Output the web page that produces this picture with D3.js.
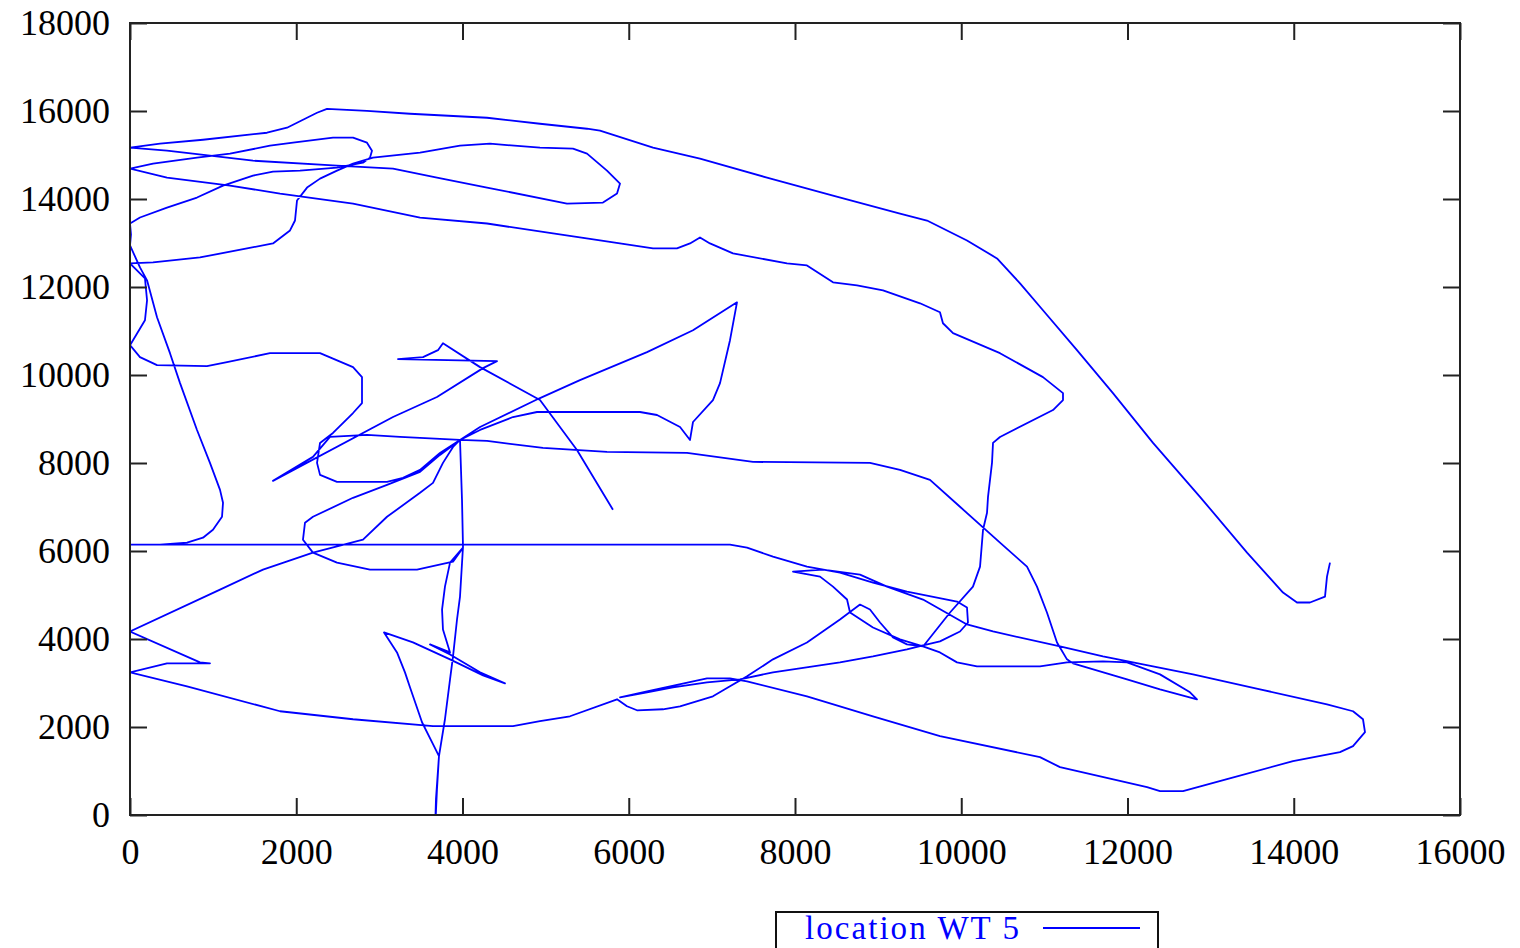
<!DOCTYPE html>
<html>
<head>
<meta charset="utf-8">
<script src="https://cdn.jsdelivr.net/npm/d3@7"></script>
<style>
  html, body { margin: 0; padding: 0; background: #ffffff; }
  svg { display: block; }
</style>
</head>
<body>
<svg id="chart" width="1520" height="948"></svg>
<script>
// Axis ticks
const xTickValues = [0, 2000, 4000, 6000, 8000, 10000, 12000, 14000, 16000];
const yTickValues = [0, 2000, 4000, 6000, 8000, 10000, 12000, 14000, 16000, 18000];
const seriesName = "location WT 5";

// Track of WT 5, split into consecutive legs of [easting, northing] fixes.
const legStub = [
  [5810, 6937], [5377, 8297], [4932, 9431], [4211, 10179], [3765, 10723], [3705, 10564],
  [3525, 10406], [3224, 10360], [4415, 10315], [4247, 10156], [3693, 9499], [3164, 9045],
  [1720, 7594], [2201, 8139], [2406, 8592], [2851, 8637], [3248, 8592], [3970, 8524]
];
const legLoopNE = [
  [4211, 8751], [4607, 9045], [4896, 9159], [6135, 9159], [6340, 9091], [6617, 8819],
  [6737, 8524], [6773, 8932], [7013, 9431], [7098, 9816], [7218, 10791], [7302, 11652],
  [6773, 11017], [6220, 10519], [5413, 9884], [4932, 9476], [4211, 8819], [3970, 8524]
];
const legSouth = [
  [3994, 7164], [4006, 6098], [3970, 4965], [3934, 4443], [3886, 3605], [3850, 3083],
  [3789, 2176], [3717, 1338], [3681, 363], [3669, -400], [3693, 589], [3717, 1338],
  [3645, 1610], [3513, 2108], [3368, 2902], [3308, 3242], [3212, 3695], [3056, 4149],
  [3404, 3922], [3850, 3537], [4247, 3174], [4511, 2992], [4211, 3242], [3850, 3650],
  [3609, 3877], [3850, 3695], [3765, 4217], [3754, 4670], [3789, 5191], [3850, 5736],
  [4006, 6076]
];
const legLoopW = [
  [3886, 5758], [3453, 5577], [2887, 5577], [2490, 5736], [2201, 5962], [2081, 6257],
  [2105, 6642], [2201, 6778], [2683, 7209], [3092, 7504], [3489, 7798], [3729, 8184],
  [3970, 8524]
];
const legSW = [
  [3886, 8365], [3765, 8003], [3645, 7549], [3489, 7322], [3092, 6778], [2803, 6257],
  [2201, 5962], [1600, 5577], [1083, 5123], [0, 4171], [842, 3469], [962, 3446],
  [445, 3446], [0, 3242], [686, 2924], [1805, 2358], [2683, 2176], [3645, 2018],
  [4607, 2018], [4932, 2131], [5293, 2244], [5859, 2630]
];
const legPeak = [
  [5979, 2471], [6099, 2380], [6412, 2403], [6617, 2471], [7013, 2698], [7218, 2924],
  [7423, 3151], [7735, 3537], [8144, 3922], [8541, 4443], [8782, 4783], [8902, 4670],
  [9023, 4375], [9179, 4035], [9347, 3877], [9540, 3831]
];
const legWedge = [
  [9744, 3695], [9949, 3469], [10189, 3378], [10947, 3378], [11272, 3469], [11705, 3491],
  [11994, 3469], [12391, 3196], [12752, 2788], [12836, 2630], [12391, 2856], [11994, 3083],
  [11344, 3446], [11272, 3537], [11152, 3922], [11031, 4602], [10911, 5191], [10791, 5645],
  [10466, 6189], [9985, 7005], [9624, 7617], [9263, 7844], [8902, 8003], [7495, 8025],
  [6701, 8229], [5738, 8252], [4968, 8342], [4295, 8501], [3970, 8524]
];
const legWest = [
  [3729, 8229], [3489, 7844], [3284, 7662], [3092, 7572], [2490, 7572], [2286, 7730],
  [2250, 8003], [2286, 8456], [2442, 8683], [2683, 9136], [2791, 9363], [2791, 9952],
  [2683, 10179], [2286, 10496], [1684, 10496], [1167, 10292], [926, 10202], [325, 10224],
  [120, 10406], [0, 10678], [180, 11244], [205, 11698], [180, 12197], [84, 12378],
  [0, 12537], [277, 12559], [842, 12672], [1408, 12877], [1720, 12990], [1925, 13285],
  [1985, 13511], [2009, 13965], [2130, 14259], [2286, 14463], [2490, 14645], [2683, 14804],
  [2923, 14940]
];
const legTongue = [
  [3489, 15053], [3970, 15212], [4331, 15257], [4932, 15166], [5329, 15144], [5498, 15030],
  [5738, 14645], [5895, 14350], [5859, 14123], [5690, 13919], [5257, 13897], [4295, 14259],
  [3693, 14486], [3164, 14690], [2490, 14758], [1480, 14871], [445, 15098], [0, 15166],
  [-250, 14950]
];
const legNorthLoop = [
  [0, 14690], [277, 14804], [806, 14940], [1203, 15030], [1684, 15212], [1961, 15280],
  [2442, 15393], [2683, 15393], [2851, 15280], [2911, 15098], [2887, 14940], [2803, 14826],
  [2490, 14713], [2045, 14645], [1720, 14622], [1480, 14531], [1119, 14305], [806, 14033],
  [445, 13806], [120, 13579], [0, 13443], [12, 13194], [0, 12945], [120, 12446],
  [205, 12151], [325, 11312], [481, 10496], [602, 9816], [806, 8751], [962, 8003],
  [1083, 7390], [1119, 7096], [1107, 6778], [998, 6484], [878, 6302], [686, 6189],
  [361, 6144], [0, 6144], [-250, 6144]
];
const leg6000 = [
  [7218, 6144], [7423, 6076], [7735, 5872], [8144, 5645], [8541, 5509], [8938, 5282],
  [9347, 5078], [9949, 4851], [10069, 4715], [10081, 4375], [9985, 4171], [9744, 3945],
  [9540, 3854], [9347, 3763], [8938, 3605], [8541, 3469], [7735, 3242], [7338, 3083],
  [6941, 3015], [6532, 2902], [6220, 2788], [5895, 2675]
];
const legSE = [
  [6220, 2811], [6941, 3106], [7218, 3106], [7423, 3038], [8144, 2698], [8938, 2244],
  [9744, 1791], [10947, 1315], [11188, 1088], [12235, 635], [12391, 544], [12668, 544],
  [13197, 816], [13991, 1224], [14556, 1428], [14713, 1564], [14857, 1882], [14833, 2176],
  [14713, 2358], [14400, 2516], [13594, 2856], [12788, 3196], [11705, 3605], [11188, 3831],
  [10382, 4171], [10069, 4330], [9540, 4897], [9107, 5191], [8782, 5464], [8337, 5577],
  [7976, 5532], [8301, 5418], [8457, 5191], [8626, 4897], [8662, 4602], [8938, 4262],
  [9263, 3990], [9540, 3831]
];
const legNorthReturn = [
  [9865, 4602], [10141, 5191], [10226, 5645], [10262, 6484], [10310, 6869], [10322, 7232],
  [10370, 8003], [10382, 8456], [10466, 8592], [11104, 9204], [11224, 9431], [11224, 9589],
  [10983, 9952], [10466, 10496], [9901, 10950], [9780, 11176], [9744, 11426], [9504, 11630],
  [9059, 11924], [8746, 12038], [8457, 12106], [8144, 12491], [7904, 12537], [7254, 12763],
  [6977, 12990], [6857, 13126], [6737, 12990], [6580, 12877], [6292, 12877], [5654, 13058],
  [5089, 13217], [4295, 13443], [3489, 13579], [2683, 13897], [1805, 14123], [1203, 14305],
  [445, 14486], [0, 14690], [-250, 14900]
];
const legFinal = [
  [0, 15166], [361, 15257], [878, 15347], [1648, 15506], [1889, 15620], [2250, 15960],
  [2370, 16050], [2851, 16005], [3368, 15937], [4295, 15847], [4932, 15710], [5498, 15597],
  [5654, 15552], [6292, 15166], [6857, 14917], [7663, 14486], [8457, 14078], [9263, 13670],
  [9588, 13511], [10069, 13058], [10430, 12650], [10707, 12083], [10983, 11471], [11392, 10564],
  [11825, 9589], [12307, 8456], [12872, 7232], [13438, 5962], [13871, 5055], [14039, 4829],
  [14195, 4829], [14376, 4965], [14400, 5418], [14436, 5736]
];

const track = [].concat(
  legStub, legLoopNE, legSouth, legLoopW, legSW, legPeak, legWedge, legWest,
  legTongue, legNorthLoop, leg6000, legSE, legNorthReturn, legFinal
);

// Layout
const plot = { left: 130, right: 1460, top: 23, bottom: 815 };
const font = "'Liberation Serif', 'Times New Roman', serif";
const axisColor = "#222";
const lineColor = "#0000ff";
const tickLen = 17;

const svg = d3.select("#chart");

const x = d3.scaleLinear().domain([0, 16000]).range([plot.left, plot.right]);
const y = d3.scaleLinear().domain([0, 18000]).range([plot.bottom, plot.top]);

svg.append("defs").append("clipPath").attr("id", "plot-clip")
  .append("rect")
  .attr("x", plot.left).attr("y", plot.top)
  .attr("width", plot.right - plot.left).attr("height", plot.bottom - plot.top);

// Track line
const line = d3.line().x(d => x(d[0])).y(d => y(d[1]));
svg.append("path")
  .datum(track)
  .attr("clip-path", "url(#plot-clip)")
  .attr("fill", "none")
  .attr("stroke", lineColor)
  .attr("stroke-width", 1.8)
  .attr("stroke-linejoin", "round")
  .attr("d", line);

// Axes: inward ticks on all four sides, labels on bottom and left
function styleAxis(g) {
  g.select(".domain").remove();
  g.selectAll(".tick line").attr("stroke", axisColor).attr("stroke-width", 2);
  g.selectAll(".tick text")
    .attr("fill", "#000")
    .style("font-family", font)
    .style("font-size", "36px");
}

svg.append("g")
  .attr("transform", `translate(0,${plot.bottom})`)
  .call(d3.axisBottom(x).tickValues(xTickValues).tickFormat(d3.format("d"))
    .tickSizeInner(-tickLen).tickSizeOuter(0).tickPadding(23))
  .call(styleAxis);

svg.append("g")
  .attr("transform", `translate(0,${plot.top})`)
  .call(d3.axisTop(x).tickValues(xTickValues).tickFormat("")
    .tickSizeInner(-tickLen).tickSizeOuter(0))
  .call(styleAxis);

svg.append("g")
  .attr("transform", `translate(${plot.left},0)`)
  .call(d3.axisLeft(y).tickValues(yTickValues).tickFormat(d3.format("d"))
    .tickSizeInner(-tickLen).tickSizeOuter(0).tickPadding(20))
  .call(styleAxis);

svg.append("g")
  .attr("transform", `translate(${plot.right},0)`)
  .call(d3.axisRight(y).tickValues(yTickValues).tickFormat("")
    .tickSizeInner(-tickLen).tickSizeOuter(0))
  .call(styleAxis);

// Plot frame
svg.append("rect")
  .attr("x", plot.left).attr("y", plot.top)
  .attr("width", plot.right - plot.left).attr("height", plot.bottom - plot.top)
  .attr("fill", "none")
  .attr("stroke", axisColor)
  .attr("stroke-width", 2);

// Legend (box runs past the bottom edge of the canvas)
const legend = svg.append("g").attr("transform", "translate(776,912)");
legend.append("rect")
  .attr("x", 0).attr("y", 0)
  .attr("width", 382).attr("height", 60)
  .attr("fill", "#fff")
  .attr("stroke", "#111")
  .attr("stroke-width", 2);
legend.append("text")
  .attr("x", 29).attr("y", 27)
  .attr("fill", lineColor)
  .attr("textLength", 214)
  .attr("lengthAdjust", "spacing")
  .style("font-family", font)
  .style("font-size", "33px")
  .text(seriesName);
legend.append("line")
  .attr("x1", 267).attr("x2", 364)
  .attr("y1", 16).attr("y2", 16)
  .attr("stroke", lineColor)
  .attr("stroke-width", 1.8);
</script>
</body>
</html>
